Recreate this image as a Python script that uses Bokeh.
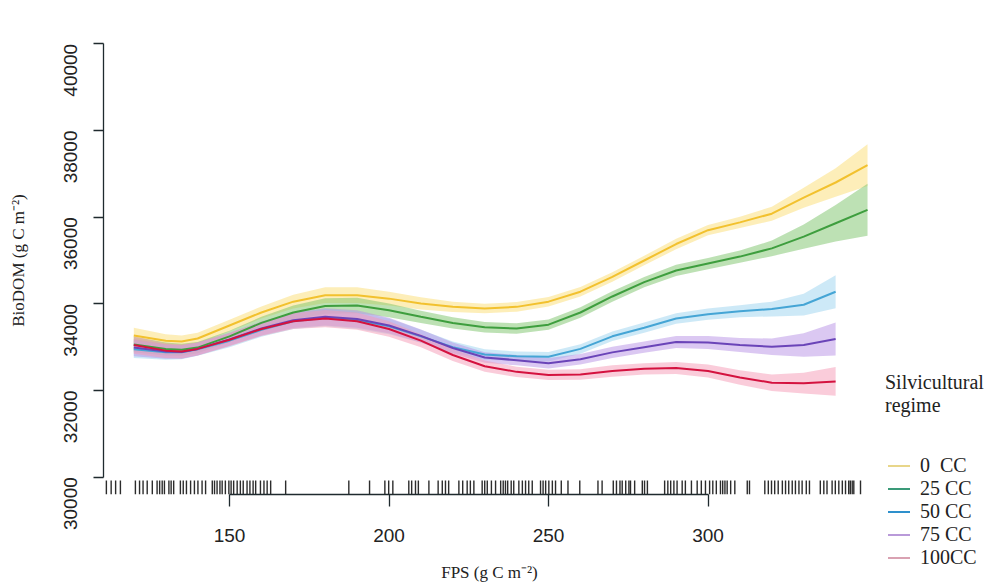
import math
from bokeh.plotting import figure
from bokeh.layouts import row
from bokeh.models import LinearAxis, FixedTicker, NumeralTickFormatter, Div
from bokeh.embed import file_html
from bokeh.resources import INLINE

# ---------------- data ----------------
fps_long = [120, 130, 135, 140, 150, 160, 170, 180, 190, 200, 210, 220, 230,
            240, 250, 260, 270, 280, 290, 300, 310, 320, 330, 340, 350]
fps_short = fps_long[:-1]

cc0 = [33270, 33150, 33130, 33200, 33500, 33800, 34050, 34200, 34200, 34120,
       34010, 33930, 33890, 33930, 34050, 34280, 34620, 35000, 35380, 35700,
       35880, 36080, 36450, 36800, 37200]
cc0_ci = [180, 150, 140, 130, 130, 140, 160, 180, 180, 160, 140, 120, 110,
          110, 110, 110, 110, 110, 120, 120, 130, 160, 230, 330, 480]

cc25 = [33060, 32960, 32940, 32990, 33250, 33560, 33800, 33950, 33960, 33850,
        33700, 33560, 33460, 33430, 33520, 33800, 34170, 34500, 34770, 34930,
        35090, 35280, 35550, 35860, 36170]
cc25_ci = [180, 150, 140, 130, 130, 140, 160, 180, 180, 160, 140, 130, 120,
           120, 120, 120, 120, 120, 130, 130, 140, 180, 280, 420, 600]

cc50 = [32950, 32880, 32880, 32950, 33150, 33400, 33600, 33680, 33620, 33480,
        33250, 33000, 32830, 32790, 32780, 32960, 33250, 33450, 33660, 33760,
        33830, 33880, 33980, 34280]
cc50_ci = [200, 170, 160, 150, 150, 160, 180, 200, 200, 180, 150, 130, 120,
           110, 110, 110, 110, 120, 120, 130, 140, 170, 250, 380]

cc75 = [32990, 32900, 32890, 32960, 33180, 33430, 33620, 33700, 33650, 33500,
        33260, 32980, 32760, 32700, 32630, 32720, 32880, 33000, 33120, 33110,
        33050, 33010, 33050, 33190]
cc75_ci = [200, 170, 160, 150, 150, 160, 180, 200, 200, 180, 150, 130, 120,
           120, 120, 120, 130, 130, 140, 150, 160, 190, 270, 380]

cc100 = [33050, 32920, 32900, 32960, 33170, 33420, 33600, 33660, 33600, 33420,
         33150, 32820, 32560, 32430, 32360, 32370, 32450, 32500, 32520, 32450,
         32300, 32180, 32170, 32210]
cc100_ci = [200, 170, 160, 150, 150, 160, 180, 200, 200, 180, 150, 140, 130,
            120, 120, 120, 130, 130, 140, 150, 170, 190, 240, 330]

rug_fps = [111.4, 112.9, 114.3, 115.8, 120.5, 121.8, 122.9, 124.2, 125.8, 127.3,
           128.1, 128.9, 129.6, 131.0, 131.7, 132.5, 134.6, 135.5, 136.5, 137.8,
           139.0, 140.1, 141.4, 142.5, 144.6, 145.3, 146.1, 147.0, 147.7, 148.7,
           149.8, 150.5, 151.3, 152.4, 153.4, 154.3, 155.5, 156.4, 157.4, 158.2,
           159.7, 160.8, 161.8, 162.9, 167.6,
           187.4, 193.9, 198.7, 199.9, 201.2, 206.2, 207.1, 208.3, 209.2, 212.5,
           215.4, 216.7, 217.7, 218.7, 221.9, 223.1, 224.5, 225.5, 226.6, 229.2,
           230.0, 230.8, 232.1, 233.4,
           235.0, 235.8, 236.5, 237.2, 238.3, 239.1, 240.7, 241.8, 242.8, 243.8,
           244.9, 247.5, 248.3, 249.1, 250.1, 251.2, 252.2, 254.0, 256.1, 259.8,
           265.5, 266.8, 270.3, 271.3, 272.4, 273.1, 274.2, 275.2, 275.7, 277.0,
           279.4, 280.1, 281.0, 286.4, 287.4, 288.3, 289.3, 290.3, 291.9, 292.9,
           294.8, 296.6, 297.9, 299.2, 300.5, 301.5, 302.6, 303.9, 304.6, 305.3,
           306.0, 307.1, 308.4, 312.3, 313.0, 317.8, 318.9, 319.9, 320.9, 322.0,
           323.3, 324.3, 325.3, 326.4, 327.4, 328.5, 329.5, 330.8, 331.8, 335.2,
           336.3, 337.3, 338.9, 339.9, 341.0, 342.1, 343.1, 344.1, 344.6, 345.2,
           345.7, 347.8]

x_ticks = [150, 200, 250, 300]
y_ticks = [30000, 32000, 34000, 36000, 38000, 40000]

regimes = ["0  CC", "25 CC", "50 CC", "75 CC", "100CC"]
legend_title = ["Silvicultural", "regime"]

# ---------------- figure ----------------
p = figure(width=875, height=584, x_range=(110.5, 352.5), y_range=(29600, 40400),
           output_backend="svg", toolbar_location=None,
           x_axis_type=None, y_axis_type=None,
           min_border_left=103, min_border_right=0, min_border_top=26,
           min_border_bottom=84)
p.outline_line_color = None
p.background_fill_color = "white"
p.border_fill_color = "white"

series = [
    (fps_long, cc0, cc0_ci, "#F2C12E", "#FBE38A", 0.6, "#E8D68A"),
    (fps_long, cc25, cc25_ci, "#3E9E3E", "#7CC46A", 0.5, "#3A9A78"),
    (fps_short, cc50, cc50_ci, "#45A5D5", "#9BD3F0", 0.5, "#2E90CC"),
    (fps_short, cc75, cc75_ci, "#6A44B8", "#B892E6", 0.5, "#B99AD9"),
    (fps_short, cc100, cc100_ci, "#D4123F", "#F59AB5", 0.5, "#D9A2B2"),
]

for xs, ys, ci, lc, fc, fa, _ in series:
    lo = [y - c for y, c in zip(ys, ci)]
    hi = [y + c for y, c in zip(ys, ci)]
    p.varea(x=xs, y1=lo, y2=hi, fill_color=fc, fill_alpha=fa)

for xs, ys, ci, lc, fc, fa, _ in series:
    p.line(xs, ys, line_color=lc, line_width=2)

# rug
rug_len = 0.03 * (40400 - 29600)
p.segment(x0=rug_fps, y0=[29600] * len(rug_fps), x1=rug_fps,
          y1=[29600 + rug_len] * len(rug_fps), line_color="#151515",
          line_alpha=0.9, line_width=1.4)

# axes
xaxis = LinearAxis(bounds=(150, 300), ticker=FixedTicker(ticks=x_ticks),
                   axis_label="FPS (g C m⁻²)")
yaxis = LinearAxis(bounds=(30000, 40000), ticker=FixedTicker(ticks=y_ticks),
                   formatter=NumeralTickFormatter(format="0"),
                   axis_label="BioDOM (g C m⁻²)")
for ax in (xaxis, yaxis):
    ax.axis_line_color = "#1f2a2e"
    ax.axis_line_width = 1.3
    ax.major_tick_line_color = "#1f2a2e"
    ax.major_tick_line_width = 1.3
    ax.major_tick_in = 0
    ax.minor_tick_line_color = None
    ax.major_label_text_font = "Liberation Sans"
    ax.major_label_text_font_size = "19px"
    ax.major_label_text_color = "#222222"
    ax.axis_label_text_font = "Liberation Serif"
    ax.axis_label_text_font_size = "17px"
    ax.axis_label_text_font_style = "normal"
    ax.axis_label_text_color = "#222222"
xaxis.major_tick_out = 12
xaxis.major_label_standoff = 22
xaxis.axis_label_standoff = 18
yaxis.major_tick_out = 10
yaxis.major_label_standoff = 23
yaxis.major_label_orientation = math.pi / 2
yaxis.axis_label_standoff = 27
p.add_layout(xaxis, "below")
p.add_layout(yaxis, "left")

# ---------------- legend panel (HTML text, beside the plot) ----------------
rows_html = []
for i, (name, s) in enumerate(zip(regimes, series)):
    legc = s[6]
    top = 449 + 23 * i
    rows_html.append(
        f'<div style="position:absolute;left:8px;top:{top}px;height:23px;'
        f'display:flex;align-items:center;font-size:20px;white-space:pre;">'
        f'<span style="display:inline-block;width:22px;height:0;'
        f'border-top:2px solid {legc};margin-right:10px;"></span>{name}</div>')
html = (
    '<div style="position:relative;width:115px;height:584px;'
    "font-family:'Liberation Serif',serif;color:#222222;\">"
    '<div style="position:absolute;left:5px;top:366px;font-size:20px;'
    'line-height:23px;white-space:nowrap;">'
    + "<br>".join(legend_title) + "</div>"
    + "".join(rows_html) + "</div>")
legend_div = Div(text=html, width=115, height=584)

layout = row(p, legend_div)
open("out.html", "w").write(file_html(layout, INLINE))
